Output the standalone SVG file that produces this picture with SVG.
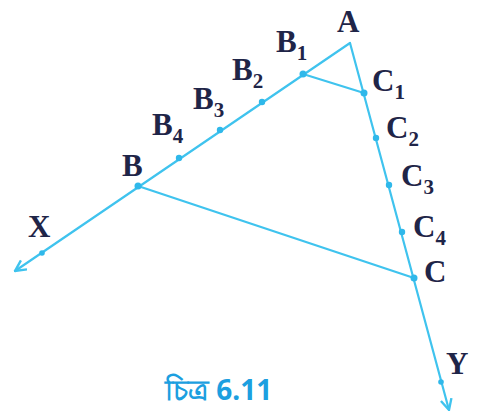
<svg xmlns="http://www.w3.org/2000/svg" width="485" height="415" viewBox="0 0 485 415">
<style>
.ln{stroke:#3fc3ee;stroke-width:2.2;fill:none;stroke-linecap:round}
.pt{fill:#2fb8ea}
.lb{font-family:"Liberation Serif","Times New Roman",serif;font-weight:bold;font-size:31px;fill:#1f2548}
.sb{font-size:21px}
.cap{font-family:"Noto Sans","Liberation Sans",sans-serif;font-weight:bold;font-size:28px;fill:#1c9fe0}
</style>
<defs>
<marker id="arr" viewBox="0 0 12 12" refX="11" refY="6" markerWidth="13" markerHeight="13" markerUnits="userSpaceOnUse" orient="auto">
<path d="M1,1 L11,6 L1,11" fill="none" stroke="#3fc3ee" stroke-width="2.2"/>
</marker>
</defs>
<rect width="485" height="415" fill="#ffffff"/>
<g id="connectors">
<line class="ln" x1="350" y1="43" x2="15" y2="271" marker-end="url(#arr)"/>
<line class="ln" x1="350" y1="43" x2="449" y2="410" marker-end="url(#arr)"/>
<line class="ln" x1="303" y1="74" x2="364" y2="93"/>
<line class="ln" x1="138" y1="186" x2="414" y2="278"/>
</g>
<g id="points">
<circle class="pt" cx="303" cy="74" r="3.5"/>
<circle class="pt" cx="262" cy="102" r="3.2"/>
<circle class="pt" cx="220" cy="130" r="3.2"/>
<circle class="pt" cx="179" cy="158" r="3.2"/>
<circle class="pt" cx="138" cy="186" r="3.5"/>
<circle class="pt" cx="364" cy="93" r="3.5"/>
<circle class="pt" cx="376" cy="138" r="3.2"/>
<circle class="pt" cx="389" cy="185" r="3.2"/>
<circle class="pt" cx="402" cy="232" r="3.2"/>
<circle class="pt" cx="414" cy="278" r="3.5"/>
<circle class="pt" cx="42" cy="253" r="2.8"/>
<circle class="pt" cx="441" cy="382" r="2.8"/>
</g>
<g id="node-A"><text class="lb" x="337" y="32">A</text></g>
<g id="node-B1"><text class="lb" x="276" y="52">B<tspan class="sb" dy="8">1</tspan></text></g>
<g id="node-B2"><text class="lb" x="232" y="80">B<tspan class="sb" dy="8">2</tspan></text></g>
<g id="node-B3"><text class="lb" x="193" y="109">B<tspan class="sb" dy="8">3</tspan></text></g>
<g id="node-B4"><text class="lb" x="152" y="135">B<tspan class="sb" dy="8">4</tspan></text></g>
<g id="node-B"><text class="lb" x="122" y="176">B</text></g>
<g id="node-C1"><text class="lb" x="372" y="91">C<tspan class="sb" dy="8">1</tspan></text></g>
<g id="node-C2"><text class="lb" x="386" y="138">C<tspan class="sb" dy="8">2</tspan></text></g>
<g id="node-C3"><text class="lb" x="401" y="186">C<tspan class="sb" dy="8">3</tspan></text></g>
<g id="node-C4"><text class="lb" x="413" y="237">C<tspan class="sb" dy="8">4</tspan></text></g>
<g id="node-C"><text class="lb" x="424" y="282">C</text></g>
<g id="node-X"><text class="lb" x="28" y="237">X</text></g>
<g id="node-Y"><text class="lb" x="446" y="374">Y</text></g>
<g id="caption"><text class="cap" x="165" y="400">চিত্র 6.11</text></g>
</svg>
